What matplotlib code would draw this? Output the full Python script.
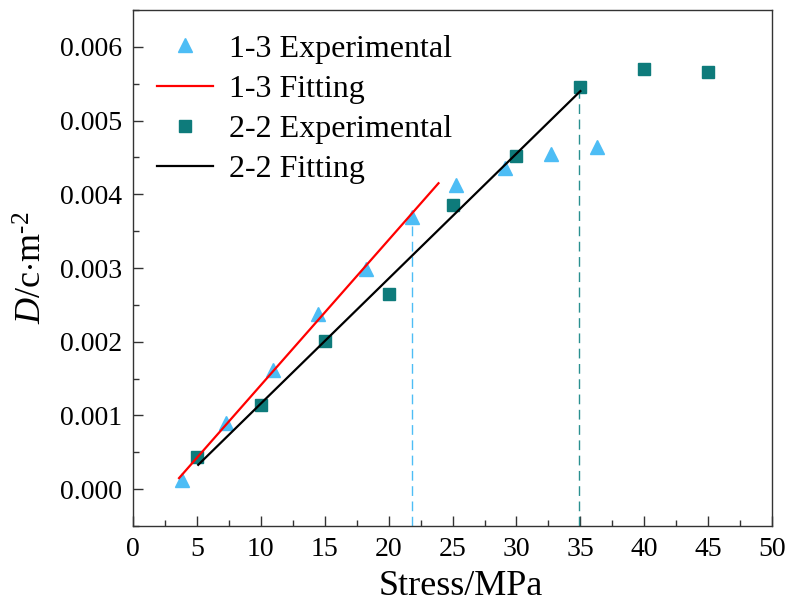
import numpy as np
import matplotlib
matplotlib.use("Agg")
import matplotlib.pyplot as plt
from matplotlib.ticker import MultipleLocator, FormatStrFormatter

plt.rcParams['font.family'] = ['Liberation Serif', 'DejaVu Serif']
plt.rcParams['mathtext.fontset'] = 'custom'
plt.rcParams['mathtext.rm'] = 'Liberation Serif'
plt.rcParams['mathtext.it'] = 'Liberation Serif:italic'

# 1-3 sample
stress_13 = [3.8, 7.3, 10.95, 14.5, 18.2, 21.8, 25.3, 29.1, 32.7, 36.3]
damage_13 = [0.00012, 0.00090, 0.00162, 0.00237, 0.00299, 0.00369,
             0.00412, 0.00435, 0.00454, 0.00464]
fit13_x = [3.6, 23.9]
fit13_y = [0.00015, 0.00415]

# 2-2 sample
stress_22 = [5, 10, 15, 20, 25, 30, 35, 40, 45]
damage_22 = [0.00043, 0.00114, 0.00201, 0.00265, 0.00386, 0.00452,
             0.00546, 0.00570, 0.00566]
fit22_x = [5.1, 35.0]
fit22_y = [0.00033, 0.00540]

# turning points (dashed guides)
turn_x = [21.8, 34.9]
turn_y = [0.00362, 0.00540]

c_tri = '#4dbdf5'
c_sq = '#0e7b7b'

fig = plt.figure(figsize=(7.89, 6.06), dpi=100)
ax = fig.add_axes([0.1686, 0.132, 0.81, 0.8515])

ax.vlines(turn_x[0], -0.0005, turn_y[0], colors=c_tri, linestyles=(0, (7, 4)), lw=1.0)
ax.vlines(turn_x[1], -0.0005, turn_y[1], colors='#2a9090', linestyles=(0, (7, 4)), lw=1.0)

ax.plot(stress_13, damage_13, '^', color=c_tri, ms=10.5, mec=c_tri, label='1-3 Experimental', zorder=3)
ax.plot(fit13_x, fit13_y, '-', color='#ff0000', lw=1.6, label='1-3 Fitting', zorder=4)
ax.plot(stress_22, damage_22, 's', color=c_sq, ms=8.5, mec=c_sq, label='2-2 Experimental', zorder=3)
ax.plot(fit22_x, fit22_y, '-', color='black', lw=1.6, label='2-2 Fitting', zorder=4)

ax.set_xlim(0, 50)
ax.set_ylim(-0.0005, 0.0065)
ax.xaxis.set_major_locator(MultipleLocator(5))
ax.xaxis.set_minor_locator(MultipleLocator(2.5))
ax.yaxis.set_major_locator(MultipleLocator(0.001))
ax.yaxis.set_minor_locator(MultipleLocator(0.0005))
ax.yaxis.set_major_formatter(FormatStrFormatter('%.3f'))

ax.tick_params(which='both', direction='in', top=False, right=False,
               labelsize=20, pad=8, width=1.0, color='#333333')
ax.tick_params(which='major', length=7)
ax.tick_params(which='minor', length=4)
for s in ax.spines.values():
    s.set_linewidth(1.0)
    s.set_color('#333333')

ax.set_xlabel('Stress/MPa', fontsize=26)
ax.xaxis.set_label_coords(0.513, -0.085)
ax.set_ylabel(r'$D$/c$\cdot$m$^{\text{-}2}$', fontsize=26)
ax.yaxis.set_label_coords(-0.131, 0.5)

ax.legend(loc='upper left', bbox_to_anchor=(0.038, 0.953), frameon=False,
          fontsize=23, handlelength=1.75, handletextpad=0.5,
          labelspacing=0.34, borderaxespad=0, borderpad=0)

fig.savefig('out.png', dpi=100)
